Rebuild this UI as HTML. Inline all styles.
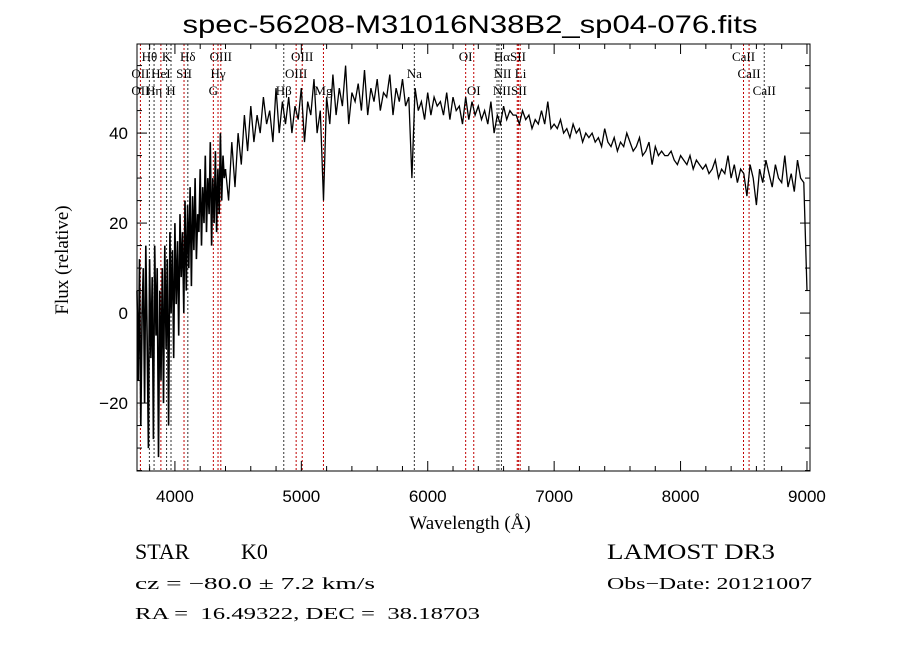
<!DOCTYPE html>
<html><head><meta charset="utf-8"><style>
html,body{margin:0;padding:0;background:#fff;}
svg{display:block;font-family:"Liberation Sans",sans-serif;}
.lab{font-family:"Liberation Serif",serif;font-size:13px;fill:#000;}
.big{font-family:"Liberation Serif",serif;font-size:22px;fill:#000;}
.mid{font-family:"Liberation Serif",serif;font-size:17px;fill:#000;}
</style></head><body>
<svg id="chart" width="900" height="649" viewBox="0 0 900 649" xmlns="http://www.w3.org/2000/svg">
<rect width="900" height="649" fill="#fff"/>
<text x="470" y="33" text-anchor="middle" font-size="25" textLength="575" lengthAdjust="spacingAndGlyphs" font-family="Liberation Sans, sans-serif">spec-56208-M31016N38B2_sp04-076.fits</text>
<g id="lines"></g>
<g id="labels"></g>
<polyline id="specBlue" fill="none" stroke="#000" stroke-width="1.6"/>
<polyline id="spec" fill="none" stroke="#000" stroke-width="1.3"/>
<g id="axes"></g>
<text x="470" y="529" text-anchor="middle" font-size="19" font-family="Liberation Serif, serif">Wavelength (Å)</text>
<text transform="translate(68,260) rotate(-90)" text-anchor="middle" font-size="19" font-family="Liberation Serif, serif">Flux (relative)</text>
<text class="big" x="135" y="559">STAR</text>
<text class="big" x="241" y="559">K0</text>
<text class="big" x="607" y="559" textLength="168" lengthAdjust="spacingAndGlyphs">LAMOST DR3</text>
<text class="mid" x="135" y="589" textLength="240" lengthAdjust="spacingAndGlyphs">cz = −80.0 ± 7.2 km/s</text>
<text class="mid" x="607" y="589" textLength="205" lengthAdjust="spacingAndGlyphs">Obs−Date: 20121007</text>
<text class="mid" x="135" y="619" textLength="345" lengthAdjust="spacingAndGlyphs" xml:space="preserve">RA =  16.49322, DEC =  38.18703</text>
</svg>
<script>
const blueStart = 3700, blueStep = 10;
const blueFlux = [5,-15,12,-25,0,10,-20,15,-5,-30,
12,-10,8,-28,15,-5,10,-32,5,-15,
10,-20,15,-8,12,-25,18,0,14,-10,
20,2,16,-5,22,8,18,0,25,5,
24,10,28,6,26,14,30,12,22,18,
32,15,28,20,35,18,30,22,38,15,
30,20,36,18,32,22,40,25,35,30,32];
const redStart = 4425, redStep = 25;
const redFlux = [25,38,28,40,33,44,36,
46,38,44,40,48,42,45,38,50,40,47,42,
48,40,46,43,50,38,47,44,52,40,45,25,
48,42,53,44,50,46,55,42,49,47,51,45,
54,44,50,47,52,45,49,48,53,44,50,47,
52,46,48,30,50,45,47,43,49,44,48,46,
47,44,49,43,48,45,46,42,48,43,47,44,
46,43,45,42,47,40,44,42,46,43,45,44,
44,42,45,43,44,41,43,42,45,42,47,41,
42,41,43,40,41,39,42,40,41,38,40,39,
40,38,39,37,41,38,37,39,36,38,37,40,
38,36,37,39,35,36,38,33,37,35,36,35,
35,36,34,33,35,34,33,35,32,34,33,32,
33,31,32,34,30,32,31,35,30,33,29,32,
31,26,33,30,24,32,29,34,31,28,33,30,
29,35,28,31,27,34,30,29,5];
const xTicks = [4000,5000,6000,7000,8000,9000];
const yTicks = [-20,0,20,40];
const lineWaves = [3727,3798,3835,3889,3934,3969,4072,4102,4304,4341,4363,4861,4959,5007,5175,5894,6300,6364,6548,6563,6583,6708,6717,6731,8498,8542,8662];
const lineRed =   [1,0,0,1,0,0,1,0,1,1,1,0,1,1,1,0,1,1,0,0,0,1,1,1,1,1,0];
const labelText = ["Hθ","K","Hδ","OIII","OIII","OI","HαSII","CaII","OII","HeI","SII","Hγ","OIII","Na","NII Li","CaII","OII","Hη","H","G","Hβ","Mg","OI","NIISII","CaII"];
const labelWave = [3798,3934,4102,4363,5007,6300,6650,8498,3727,3889,4072,4341,4959,5894,6650,8542,3727,3835,3969,4304,4861,5175,6364,6650,8662];
const labelRow  = [0,0,0,0,0,0,0,0,1,1,1,1,1,1,1,1,2,2,2,2,2,2,2,2,2];

const X0=137,X1=810,Y0=44,Y1=471, WMIN=3700, WMAX=9024, FMIN=-35.1, FMAX=59.8;
const xs = w => X0 + (w-WMIN)/(WMAX-WMIN)*(X1-X0);
const ys = f => Y1 - (f-FMIN)/(FMAX-FMIN)*(Y1-Y0);
const NS="http://www.w3.org/2000/svg";
function mk(tag, attrs, parent){const e=document.createElementNS(NS,tag);for(const k in attrs)e.setAttribute(k,attrs[k]);parent.appendChild(e);return e;}

document.getElementById("specBlue").setAttribute("points",
  blueFlux.map((f,i)=>xs(blueStart+i*blueStep).toFixed(1)+","+ys(f).toFixed(1)).join(" "));
document.getElementById("spec").setAttribute("points",
  [[4400,blueFlux[blueFlux.length-1]]].concat(redFlux.map((f,i)=>[redStart+i*redStep,f]))
  .map(p=>xs(p[0]).toFixed(1)+","+ys(p[1]).toFixed(1)).join(" "));

const lg=document.getElementById("lines");
lineWaves.forEach((w,i)=>{
  const l=mk("line",{x1:xs(w),x2:xs(w),y1:Y0,y2:Y1,stroke:lineRed[i]?"#c00000":"#333","stroke-width":1,"stroke-dasharray":"2,2"},lg);
  
  
});
const lb=document.getElementById("labels");
labelText.forEach((t,i)=>{
  const e=mk("text",{x:xs(labelWave[i]),y:61+labelRow[i]*17,"text-anchor":"middle",class:"lab"},lb);
  e.textContent=t;
  
  
});

const ax=document.getElementById("axes");
mk("rect",{x:X0,y:Y0,width:X1-X0,height:Y1-Y0,fill:"none",stroke:"#000","stroke-width":1},ax);
for(let w=3800;w<=9000;w+=200){
  const maj=w%1000===0, L=maj?10:5;
  mk("line",{x1:xs(w),x2:xs(w),y1:Y1,y2:Y1-L,stroke:"#000"},ax);
  mk("line",{x1:xs(w),x2:xs(w),y1:Y0,y2:Y0+L,stroke:"#000"},ax);
}
for(let f=-35;f<=55;f+=5){
  const maj=f%20===0, L=maj?10:5;
  mk("line",{x1:X0,x2:X0+L,y1:ys(f),y2:ys(f),stroke:"#000"},ax);
  mk("line",{x1:X1,x2:X1-L,y1:ys(f),y2:ys(f),stroke:"#000"},ax);
}
xTicks.forEach(w=>{
  const t=mk("text",{x:xs(w),y:502,"text-anchor":"middle","font-size":17},ax);
  t.textContent=w;
  
  
});
yTicks.forEach(f=>{
  const t=mk("text",{x:128,y:ys(f)+6,"text-anchor":"end","font-size":17},ax);
  t.textContent=f<0?"−"+Math.abs(f):f;
  
  
});
</script>
</body></html>
